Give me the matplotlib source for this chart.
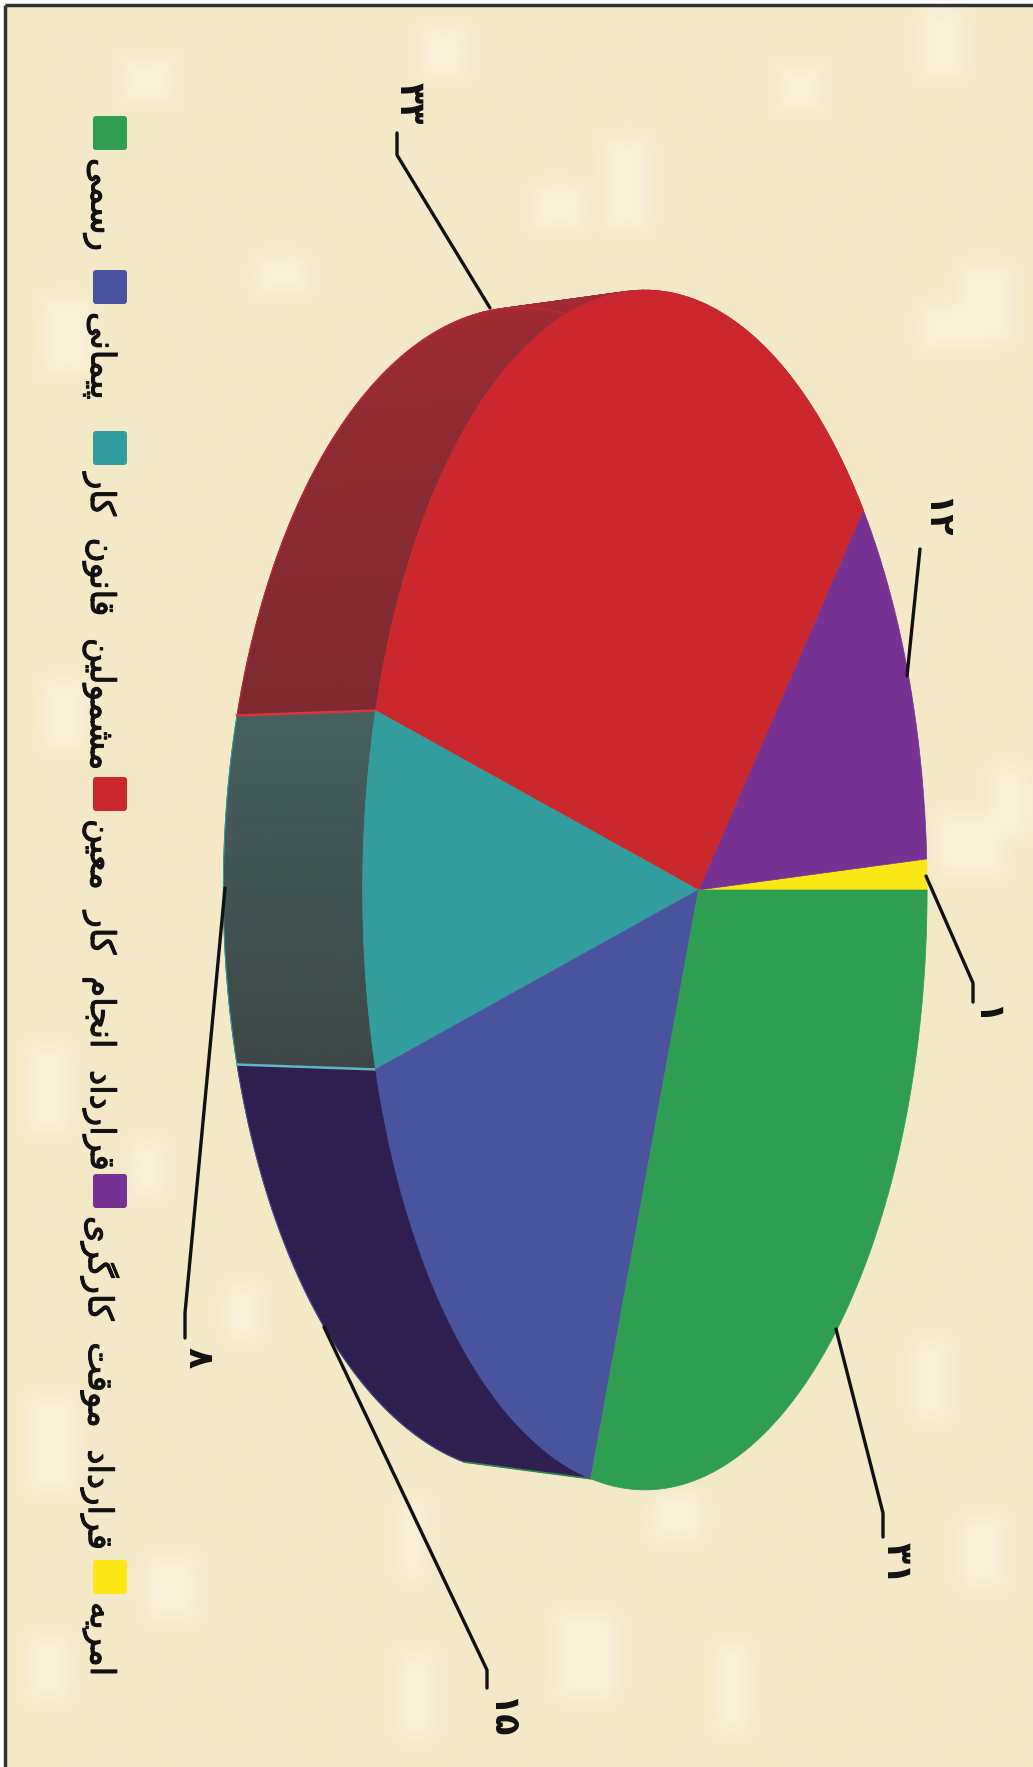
import numpy as np
import matplotlib
matplotlib.use('Agg')
import matplotlib.pyplot as plt
import matplotlib.patheffects as pe
from matplotlib.patches import FancyBboxPatch

# slices in drawing order, anticlockwise from the 3 o'clock seam of the picture
categories = ['امریه', 'قرارداد موقت کارگری', 'قرارداد انجام کار معین',
              'مشمولین قانون کار', 'پیمانی', 'رسمی']
values = [1, 12, 33, 8, 15, 31]
top_colors = ['#FBE715', '#763393', '#CB282D', '#339C9C', '#4A539E', '#2F9E50']
wall_from = {2: '#AC2A34', 3: '#466060', 4: '#2E1F50'}
wall_to = {2: '#7E2A31', 3: '#3D4646', 4: '#2E1F50'}
seam_colors = {2: '#D9353A', 3: '#5FB6C4', 4: '#2E8A4A'}

# legend runs top to bottom in the picture
legend_order = [5, 4, 3, 2, 1, 0]
legend_tops = [116, 270, 431, 777, 1174, 1560]

# leader lines, image pixels: (x, y) from the pie out to the label
leaders = {
    1: [(926, 876), (973, 983), (973, 1002)],
    12: [(907, 676), (920, 549)],
    33: [(490, 308), (397, 155), (397, 133)],
    8: [(225, 888), (185, 1313), (185, 1338)],
    15: [(324, 1327), (487, 1670), (487, 1688)],
    31: [(836, 1329), (883, 1513), (883, 1537)],
}
label_pos = {1: (985, 1016), 12: (935, 518), 33: (410, 103), 8: (198, 1358),
             15: (500, 1718), 31: (897, 1563)}

# lighter blotches of the paper texture: x, y, w, h in image pixels
paper_spots = [(430, 30, 30, 40), (935, 10, 25, 60), (125, 60, 40, 30), (40, 300, 40, 60),
               (790, 70, 30, 30), (45, 680, 30, 60), (30, 1050, 30, 70), (30, 1400, 35, 80),
               (540, 190, 40, 30), (610, 140, 30, 80), (930, 310, 60, 30), (950, 820, 50, 50),
               (970, 270, 40, 60), (1000, 770, 30, 60), (920, 1350, 25, 60), (970, 1520, 30, 60),
               (560, 1620, 50, 70), (720, 1650, 25, 70), (400, 1660, 25, 70), (400, 1510, 20, 60),
               (660, 1500, 40, 30), (30, 1640, 30, 50), (225, 1290, 25, 40), (150, 1560, 35, 50),
               (230, 960, 20, 30), (260, 260, 40, 25), (135, 1150, 20, 40)]

persian_digits = str.maketrans('0123456789', '۰۱۲۳۴۵۶۷۸۹')

forms = {
    'ا': (0xFE8D, 0xFE8E, None, None), 'د': (0xFEA9, 0xFEAA, None, None),
    'ر': (0xFEAD, 0xFEAE, None, None), 'و': (0xFEED, 0xFEEE, None, None),
    'پ': (0xFB56, 0xFB57, 0xFB58, 0xFB59), 'ت': (0xFE95, 0xFE96, 0xFE97, 0xFE98),
    'ج': (0xFE9D, 0xFE9E, 0xFE9F, 0xFEA0), 'س': (0xFEB1, 0xFEB2, 0xFEB3, 0xFEB4),
    'ش': (0xFEB5, 0xFEB6, 0xFEB7, 0xFEB8), 'ع': (0xFEC9, 0xFECA, 0xFECB, 0xFECC),
    'ف': (0xFED1, 0xFED2, 0xFED3, 0xFED4), 'ق': (0xFED5, 0xFED6, 0xFED7, 0xFED8),
    'ک': (0xFB8E, 0xFB8F, 0xFB90, 0xFB91), 'گ': (0xFB92, 0xFB93, 0xFB94, 0xFB95),
    'ل': (0xFEDD, 0xFEDE, 0xFEDF, 0xFEE0), 'م': (0xFEE1, 0xFEE2, 0xFEE3, 0xFEE4),
    'ن': (0xFEE5, 0xFEE6, 0xFEE7, 0xFEE8), 'ه': (0xFEE9, 0xFEEA, 0xFEEB, 0xFEEC),
    'ی': (0xFBFC, 0xFBFD, 0xFBFE, 0xFBFF),
}


# matplotlib does not shape arabic script, so pick the joined forms by hand
def shape(text):
    out = []
    for i, ch in enumerate(text):
        if ch not in forms:
            out.append(ch)
            continue
        prev = text[i - 1] if i > 0 else ' '
        nxt = text[i + 1] if i < len(text) - 1 else ' '
        joins_prev = prev in forms and forms[prev][2] is not None
        joins_next = nxt in forms and forms[ch][2] is not None
        if joins_prev and joins_next:
            code = forms[ch][3]
        elif joins_prev:
            code = forms[ch][1]
        elif joins_next:
            code = forms[ch][2]
        else:
            code = forms[ch][0]
        out.append(chr(code))
    return ''.join(reversed(out))


# the pie is a tilted circle in perspective, turned a quarter turn on the page
def rim(theta, x0, a, b, k):
    u = np.cos(theta)
    d = 1 + k * u
    return (a * u + x0) / d, 890 - b * np.sin(theta) / d


TOP = (698.4, 404.5, 589, 0.1896)
BOTTOM = (577.7, 397, 572, 0.191)

fig = plt.figure(figsize=(10.33, 17.67), dpi=100, facecolor='white')
ax = fig.add_axes([0, 0, 1, 1])
ax.axis('off')

# paper background, spots softened with a box blur
paper = np.zeros((221, 130))
for x, y, w, h in paper_spots:
    paper[y // 8:(y + h) // 8 + 1, x // 8:(x + w) // 8 + 1] = 1
kernel = np.ones(3) / 3
paper = np.apply_along_axis(lambda r: np.convolve(r, kernel, mode='same'), 0, paper)
paper = np.apply_along_axis(lambda r: np.convolve(r, kernel, mode='same'), 1, paper)
base = np.array([244, 233, 199]) / 255
light = np.array([250, 241, 218]) / 255
texture = base + paper[..., None] * (light - base)
ax.imshow(texture, extent=(5, 1033, 1767, 5), interpolation='bicubic', aspect='auto', zorder=0)
ax.set_xlim(0, 1033)
ax.set_ylim(1767, 0)
ax.plot([5, 5], [1767, 5], color='#333333', lw=2.5, zorder=1, solid_capstyle='butt')
ax.plot([5, 1033], [5, 5], color='#333333', lw=2.5, zorder=1, solid_capstyle='butt')

edges = np.cumsum([0] + values) / sum(values) * 2 * np.pi
visible_from = np.radians(95)

# side wall, only the red, teal and blue slices show from this view
for i in [2, 4, 3]:
    n = max(int(np.degrees(edges[i + 1] - edges[i])), 2)
    steps = np.linspace(edges[i], edges[i + 1], n + 1)
    c0 = np.array(matplotlib.colors.to_rgb(wall_from[i]))
    c1 = np.array(matplotlib.colors.to_rgb(wall_to[i]))
    start = max(edges[i], visible_from)
    for j in range(n):
        t = np.linspace(steps[j], steps[j + 1], 3)
        tx, ty = rim(t, *TOP)
        bx, by = rim(t, *BOTTOM)
        frac = np.clip((steps[j] - start) / (edges[i + 1] - start), 0, 1)
        col = c0 + (c1 - c0) * frac
        ax.fill(np.r_[tx, bx[::-1]], np.r_[ty, by[::-1]], color=col, lw=0.6, zorder=2)
    # thin lighter outline on the far rim of the wall
    t = np.linspace(edges[i], edges[i + 1], 60)
    bx, by = rim(t, *BOTTOM)
    ax.plot(bx, by, color=top_colors[i], lw=0.7, zorder=2.5)

# seams between wall slices
for i in [2, 3, 4]:
    t = edges[i + 1]
    tx, ty = rim(t, *TOP)
    bx, by = rim(t, *BOTTOM)
    ax.plot([tx, bx], [ty, by], color=seam_colors[i], lw=1.8 if i < 4 else 1.2, zorder=3)

# top face
apex = (TOP[0], 890)
for i in range(len(values)):
    t = np.linspace(edges[i], edges[i + 1], 200)
    x, y = rim(t, *TOP)
    ax.fill(np.r_[apex[0], x], np.r_[apex[1], y], color=top_colors[i], lw=0.5, zorder=4)

# leaders and value labels
for v in values:
    pts = np.array(leaders[v])
    ax.plot(pts[:, 0], pts[:, 1], color='#111111', lw=2.4, zorder=5,
            solid_joinstyle='round', solid_capstyle='round')
    lx, ly = label_pos[v]
    ax.text(lx, ly, str(v).translate(persian_digits), rotation=-90, ha='center', va='center',
            fontsize=25, fontweight='bold', color='#111111', zorder=6)

# legend, wider word gaps and a slight stroke to get nearer the original lettering
for top, i in zip(legend_tops, legend_order):
    ax.add_patch(FancyBboxPatch((95, top + 2), 30, 30, boxstyle='round,pad=2,rounding_size=3',
                                fc=top_colors[i], ec='none', zorder=5))
    ax.text(100, top + 42, shape(categories[i]).replace(' ', '  '), rotation=-90, ha='center', va='top',
            fontsize=24.5, color='#111111', zorder=6,
            path_effects=[pe.withStroke(linewidth=0.7, foreground='#111111')])

fig.savefig('out.png', dpi=100, facecolor='white')
